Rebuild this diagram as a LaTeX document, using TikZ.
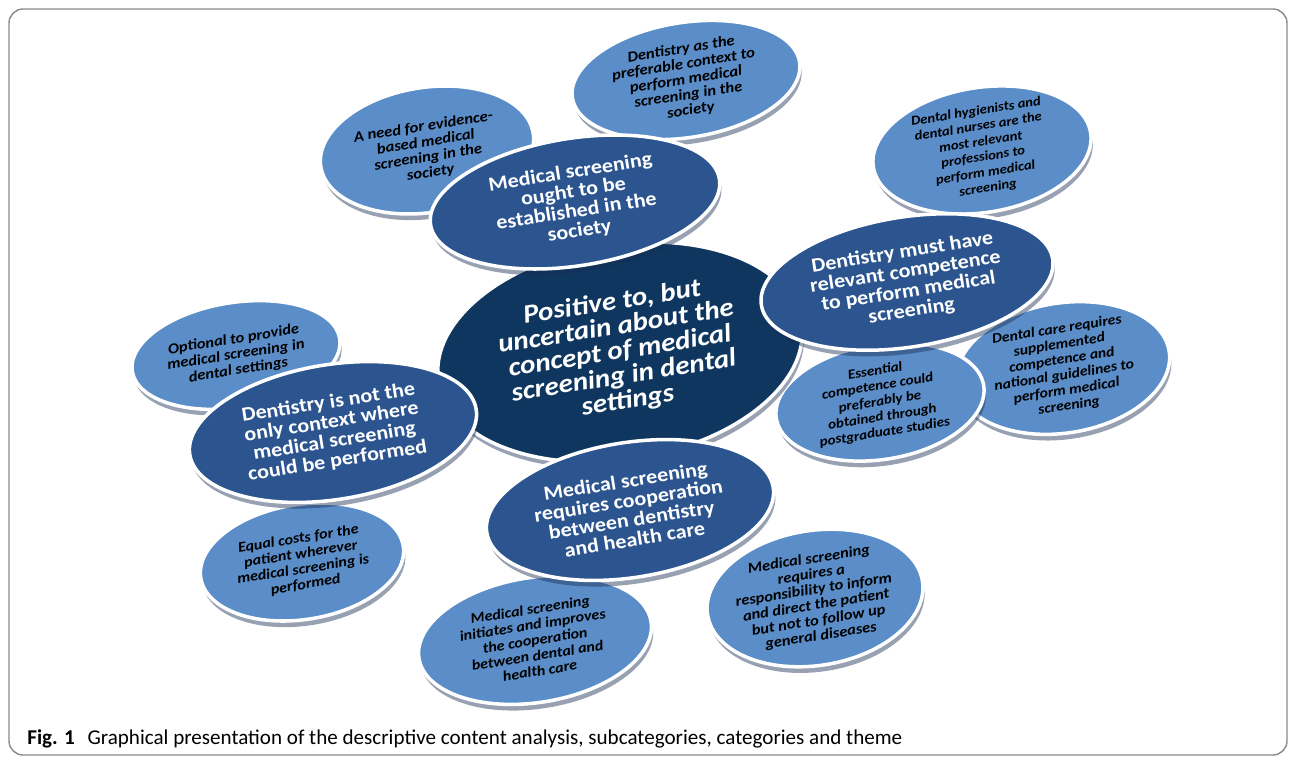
\documentclass[tikz,border=0pt]{standalone}
\usepackage{fontspec}
\setmainfont{Carlito}
\newfontfamily\bubblefont{Carlito}[FakeStretch=1.1]
\usepackage{xcolor}
\usetikzlibrary{shapes,positioning,shadows}

\definecolor{subblue}{HTML}{5B8DC8}
\definecolor{catblue}{HTML}{2C5590}
\definecolor{themeblue}{HTML}{0F365F}
\definecolor{shadowblue}{HTML}{1A2F55}
\definecolor{framegray}{HTML}{8A8A8A}

\begin{document}
\begin{tikzpicture}[x=0.02cm,y=-0.02cm,
    bubble/.style={ellipse, draw=white, line width=2pt, inner sep=-5pt, align=center, rotate=9,
      drop shadow={shadow xshift=1pt, shadow yshift=-3.5pt, fill=shadowblue, opacity=0.45}},
    sub/.style={bubble, fill=subblue, text=black, font=\bubblefont\fontsize{#1}{8.8}\selectfont\bfseries\itshape},
    sub/.default=8.3,
    cat/.style={bubble, fill=catblue, text=white, font=\bubblefont\fontsize{11.4}{11.2}\selectfont\bfseries},
    theme/.style={bubble, fill=themeblue, text=white, font=\bubblefont\fontsize{15}{14.2}\selectfont\bfseries\itshape}]
    \useasboundingbox (0,0) rectangle (1296,761);

    % frame
    \draw[framegray, line width=0.8pt, rounded corners=8pt] (9,9) rectangle (1287,755);

    % subcategories
    \node[sub=8.6, minimum width=4.3cm, minimum height=2.5cm] (evidence) at (427,150)
        {A need for evidence-\\based medical\\screening in the\\society};
    \node[sub=8.6, minimum width=4.6cm, minimum height=2.3cm] (preferable) at (686,80)
        {Dentistry as the\\preferable context to\\perform medical\\screening in the\\society};
    \node[sub=7.6, minimum width=4.4cm, minimum height=2.5cm] (hygienists) at (982,150)
        {Dental hygienists and\\dental nurses are the\\most relevant\\professions to\\perform medical\\screening};
    \node[sub=8.5, minimum width=4.2cm, minimum height=2.1cm] (optional) at (236,355)
        {Optional to provide\\medical screening in\\dental settings};
    \node[sub=8.1, minimum width=4.3cm, minimum height=2.6cm] (guidelines) at (1063,368)
        {Dental care requires\\supplemented\\competence and\\national guidelines to\\perform medical\\screening};
    \node[sub=7.8, minimum width=4.2cm, minimum height=2.3cm] (postgrad) at (880,402)
        {Essential\\competence could\\preferably be\\obtained through\\postgraduate studies};
    \node[sub=8.3, minimum width=4.1cm, minimum height=2.3cm] (costs) at (302,562)
        {Equal costs for the\\patient wherever\\medical screening is\\performed};
    \node[sub=8.3, minimum width=4.7cm, minimum height=2.5cm] (initiates) at (535,640)
        {Medical screening\\initiates and improves\\the cooperation\\between dental and\\health care};
    \node[sub=8.5, minimum width=4.35cm, minimum height=2.7cm] (inform) at (815,598)
        {Medical screening\\requires a\\responsibility to inform\\and direct the patient\\but not to follow up\\general diseases};

    % theme
    \node[theme, minimum width=7.35cm, minimum height=4.3cm] (theme) at (620,352)
        {Positive to, but\\uncertain about the\\concept of medical\\screening in dental\\settings};

    % categories
    \node[cat, minimum width=5.85cm, minimum height=2.55cm] (society) at (575,202)
        {Medical screening\\ought to be\\established in the\\society};
    \node[cat, minimum width=5.9cm, minimum height=2.6cm] (competence) at (907,282)
        {Dentistry must have\\relevant competence\\to perform medical\\screening};
    \node[cat, minimum width=5.8cm, minimum height=2.7cm] (context) at (333,432)
        {Dentistry is not the\\only context where\\medical screening\\could be performed};
    \node[cat, minimum width=5.8cm, minimum height=2.7cm] (cooperation) at (630,510)
        {Medical screening\\requires cooperation\\between dentistry\\and health care};

    % caption
    \node[anchor=base west, inner sep=0pt, font=\fontsize{12}{14}\selectfont] (caption) at (27,744)
        {\textbf{Fig. 1}\hspace{0.6em}Graphical presentation of the descriptive content analysis, subcategories, categories and theme};
\end{tikzpicture}
\end{document}
